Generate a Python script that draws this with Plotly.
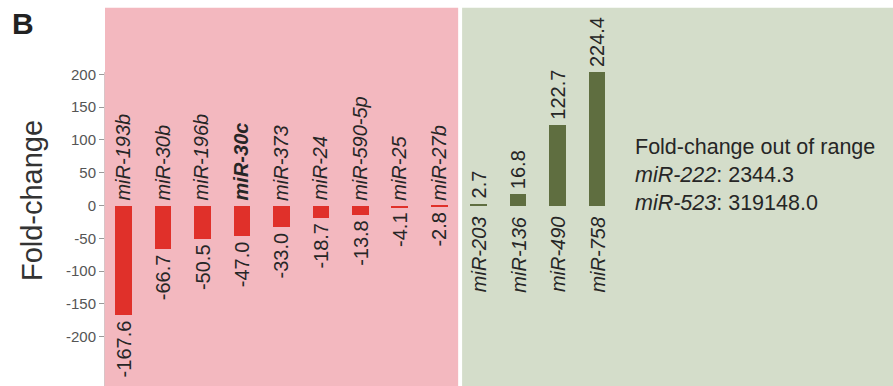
import plotly.graph_objects as go

# ---- data ----
categories = ["miR-193b", "miR-30b", "miR-196b", "miR-30c", "miR-373", "miR-24",
              "miR-590-5p", "miR-25", "miR-27b", "miR-203", "miR-136", "miR-490", "miR-758"]
fold_change = [-167.6, -66.7, -50.5, -47.0, -33.0, -18.7, -13.8, -4.1, -2.8,
               2.7, 16.8, 122.7, 224.4]
bold_labels = ["miR-30c"]
y_ticks = [200, 150, 100, 50, 0, -50, -100, -150, -200]
out_of_range_names = ["miR-222", "miR-523"]
out_of_range_values = ["2344.3", "319148.0"]

# ---- style ----
FONT = "Arial, Liberation Sans, Helvetica, sans-serif"
RED = "#e0302a"
GREEN = "#5f6e40"
PINK_BG = "#f3b8bf"
GREEN_BG = "#d4ddca"
TEXT = "#262626"
Y_MIN, Y_MAX = -275.4, 203.7
X_MIN, X_MAX = -0.47, 19.5

colors = [RED if v < 0 else GREEN for v in fold_change]

fig = go.Figure()
fig.add_trace(go.Bar(
    x=categories, y=fold_change, marker=dict(color=colors, line=dict(width=0)),
    width=0.42, hoverinfo="x+y", showlegend=False,
))

n_neg = sum(1 for v in fold_change if v < 0)
split = n_neg - 0.5

shapes = [
    dict(type="rect", xref="x", yref="paper", x0=X_MIN, x1=split - 0.02, y0=0, y1=1.205,
         fillcolor=PINK_BG, line=dict(width=0), layer="below"),
    dict(type="rect", xref="x", yref="paper", x0=split + 0.08, x1=X_MAX, y0=0, y1=1.205,
         fillcolor=GREEN_BG, line=dict(width=0), layer="below"),
]

annotations = []
for cat, v in zip(categories, fold_change):
    name = f"<i>{cat}</i>"
    if cat in bold_labels:
        name = f"<b>{name}</b>"
    shown = min(max(v, Y_MIN), Y_MAX)
    if v < 0:
        annotations.append(dict(x=cat, y=0, text=name, textangle=-90, showarrow=False,
                                xanchor="center", yanchor="bottom", yshift=3, xshift=-1,
                                font=dict(family=FONT, size=20, color=TEXT)))
        annotations.append(dict(x=cat, y=shown, text=f"{v:.1f}", textangle=-90, showarrow=False,
                                xanchor="center", yanchor="top", yshift=-3,
                                font=dict(family=FONT, size=20, color=TEXT)))
    else:
        annotations.append(dict(x=cat, y=0, text=name, textangle=-90, showarrow=False,
                                xanchor="center", yanchor="top", yshift=-9,
                                font=dict(family=FONT, size=20, color=TEXT)))
        annotations.append(dict(x=cat, y=shown, text=f"{v:.1f}", textangle=-90, showarrow=False,
                                xanchor="center", yanchor="bottom", yshift=3,
                                font=dict(family=FONT, size=20, color=TEXT)))

oor_lines = ["Fold-change out of range"] + [
    f"<i>{n}</i>: {val}" for n, val in zip(out_of_range_names, out_of_range_values)]
annotations.append(dict(xref="paper", yref="paper", x=0.6705, y=0.672, xanchor="left",
                        yanchor="middle", align="left", showarrow=False,
                        text="<br>".join(oor_lines),
                        font=dict(family=FONT, size=21.5, color=TEXT)))
annotations.append(dict(xref="paper", yref="paper", x=-0.0926, y=0.589, xanchor="center",
                        yanchor="middle", textangle=-90, showarrow=False, text="Fold-change",
                        font=dict(family=FONT, size=29, color="#333333")))
annotations.append(dict(xref="paper", yref="paper", x=-0.1205, y=1.212, xanchor="left",
                        yanchor="top", showarrow=False, text="<b>B</b>",
                        font=dict(family=FONT, size=30, color="#222222")))

fig.update_layout(
    width=893, height=386,
    margin=dict(l=105, r=0, t=72, b=0, pad=0),
    paper_bgcolor="white", plot_bgcolor="rgba(0,0,0,0)",
    shapes=shapes, annotations=annotations,
    bargap=0,
    xaxis=dict(type="category", categoryorder="array", categoryarray=categories,
               range=[X_MIN, X_MAX], showticklabels=False, ticks="", showgrid=False,
               zeroline=False, showline=False, fixedrange=True),
    yaxis=dict(range=[Y_MIN, Y_MAX], tickvals=y_ticks, ticktext=[str(t) for t in y_ticks],
               ticks="outside", ticklen=5, tickwidth=1, tickcolor="#9a9a9a",
               tickfont=dict(family=FONT, size=15, color="#555555"),
               showgrid=False, zeroline=False, showline=True, linecolor="#d9c3c6",
               linewidth=1, fixedrange=True),
)

fig.write_html("out.html")
